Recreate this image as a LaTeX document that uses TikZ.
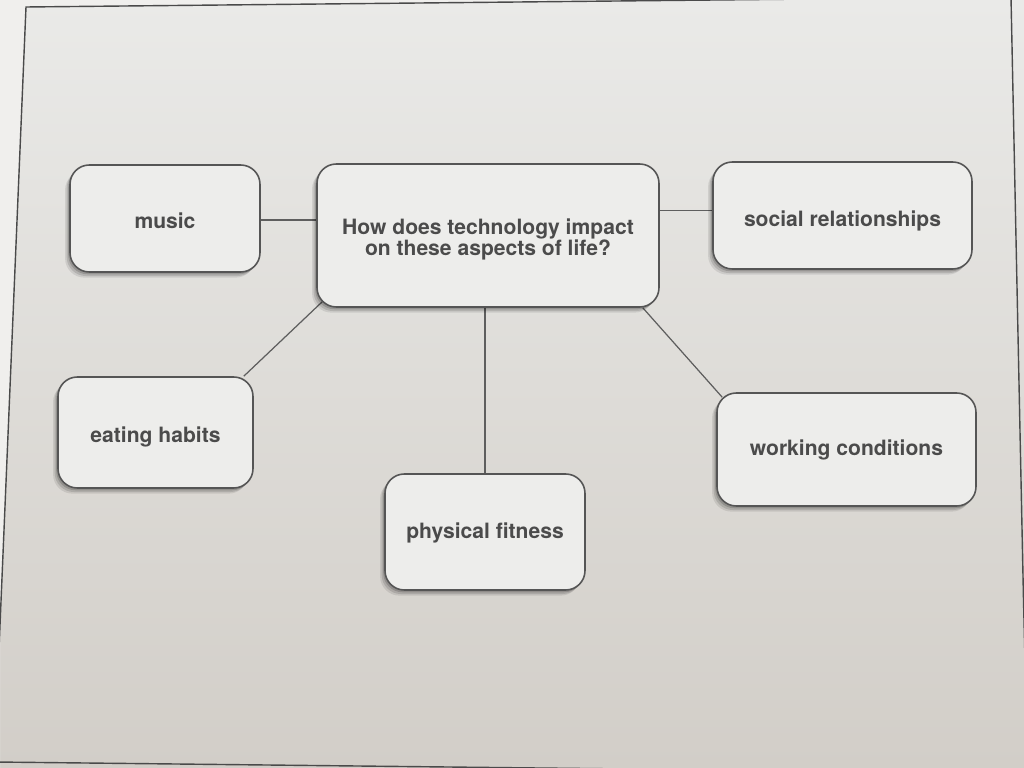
\documentclass[tikz,border=0pt]{standalone}
\usepackage{fontspec}
\setmainfont{TeX Gyre Heros}
\usetikzlibrary{shadows}
\pgfdeclarelayer{paper}
\pgfdeclarelayer{lines}
\pgfsetlayers{paper,lines,main}
\definecolor{paperTop}{HTML}{EAEAE8}
\definecolor{paperMid}{HTML}{E4E4E1}
\definecolor{paperBot}{HTML}{D2CEC8}
\definecolor{paperOut}{HTML}{F0EFED}
\definecolor{boxfill}{HTML}{EDEDEB}
\definecolor{boxline}{HTML}{555555}
\definecolor{linkc}{HTML}{5E5E5E}
\definecolor{txt}{HTML}{4B4B4B}
\definecolor{framec}{HTML}{4A4A4A}
\begin{document}
\begin{tikzpicture}[x=0.2mm,y=-0.2mm,
  box/.style={draw=boxline, line width=0.9pt, fill=boxfill, rounded corners=11pt,
    align=center, text=txt, font=\bfseries\fontsize{12pt}{11.6pt}\selectfont, inner sep=0pt,
    general shadow={fill=black, opacity=0.09, shadow xshift=-2.8pt, shadow yshift=-3.2pt},
    general shadow={fill=black, opacity=0.12, shadow xshift=-1.9pt, shadow yshift=-2.3pt},
    general shadow={fill=black, opacity=0.16, shadow xshift=-1pt, shadow yshift=-1.3pt}},
  lower/.style={text height=#1, text depth=0pt},
  link/.style={draw=linkc, line width=0.7pt}]
\useasboundingbox (0,0) rectangle (1024,768);
\begin{pgfonlayer}{paper}
  \shade[top color=paperTop, middle color=paperMid, bottom color=paperBot] (0,0) rectangle (1024,768);
  \fill[paperOut] (0,0) -- (1024,0) -- (1011,-3) -- (26,7) -- (-6,768) -- (0,768) -- cycle;
  \draw[framec, line width=0.8pt] (-6,768) -- (26,7) -- (1011,-3) -- (1023.5,600) -- (1026,700);
  \draw[framec, line width=0.8pt] (-6,762) -- (720,770);
\end{pgfonlayer}

\node[box, minimum width=68.4mm, minimum height=28.6mm] (central) at (488,235.5)
  {\rule{0pt}{13.4pt}How does technology impact\\on these aspects of life?};
\node[box, lower=11.4pt, minimum width=38mm, minimum height=21.4mm] (music) at (165,218.5) {music};
\node[box, lower=12.6pt, minimum width=51.8mm, minimum height=21.4mm] (social) at (842.5,215.5) {social relationships};
\node[box, lower=11.4pt, minimum width=39mm, minimum height=22.2mm] (eating) at (155.5,432.5) {eating habits};
\node[box, lower=7pt, minimum width=51.8mm, minimum height=22.6mm] (working) at (846.5,449.5) {working conditions};
\node[box, lower=7.6pt, minimum width=40mm, minimum height=23.2mm] (physical) at (485,532) {physical fitness};

\begin{pgfonlayer}{lines}
  \draw[link] ([yshift=-0.8pt]music.east) -- ([yshift=-0.8pt]music.east -| central.west);
  \draw[link] ([yshift=3pt]social.west) -- ([yshift=3pt]social.west -| central.east);
  \draw[link] (physical.north) -- (physical.north |- central.south);
  \draw[link] ([shift={(-10,0)}]eating.north east) -- ([shift={(6,-6)}]central.south west);
  \draw[link] ([shift={(-17,0)}]central.south east) -- ([shift={(6,5)}]working.north west);
\end{pgfonlayer}
\end{tikzpicture}
\end{document}
